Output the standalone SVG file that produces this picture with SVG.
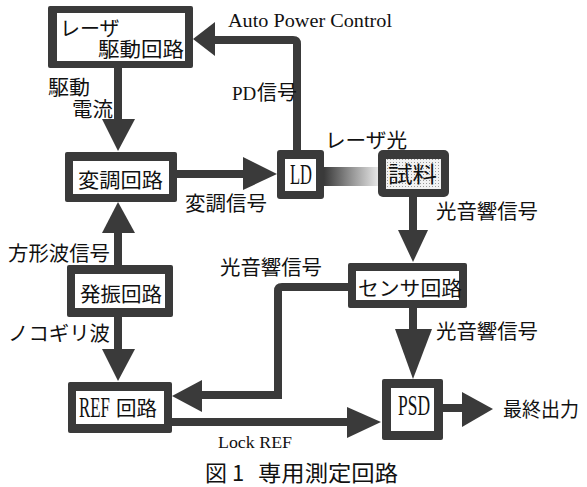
<svg xmlns="http://www.w3.org/2000/svg" width="587" height="487" viewBox="0 0 587 487">
<defs>
<style>
.ob{fill:#3a3a3a}
.ib{fill:#fff}
.ln{fill:none;stroke:#3a3a3a;stroke-width:8}
.hd{fill:#3a3a3a}
.jp{font-family:"Noto Sans CJK JP","Liberation Sans",sans-serif;font-size:20px;fill:#111}
.se{font-family:"Liberation Serif",serif;font-size:18px;fill:#111}
.cd{font-family:"Liberation Serif",serif;font-size:29px;fill:#111}
.cap{font-size:22px}
</style>
<linearGradient id="beam" x1="0" y1="0" x2="1" y2="0">
<stop offset="0" stop-color="#3a3a3a"/>
<stop offset="0.45" stop-color="#8a8a8a"/>
<stop offset="1" stop-color="#e6e6e6"/>
</linearGradient>
<pattern id="dots" width="3" height="3" patternUnits="userSpaceOnUse">
<rect width="3" height="3" fill="#f2f2f2"/>
<rect width="1" height="1" fill="#9a9a9a"/>
</pattern>
</defs>
<rect width="587" height="487" fill="#fff"/>

<g id="connectors">
<line class="ln" x1="118" y1="68" x2="118" y2="121"/>
<polygon class="hd" points="102,119 135,119 118,151"/>
<line class="ln" x1="118" y1="265" x2="118" y2="231"/>
<polygon class="hd" points="102,233 135,233 118,202"/>
<line class="ln" x1="118" y1="317" x2="118" y2="351"/>
<polygon class="hd" points="102,349 135,349 118,381"/>
<line class="ln" x1="177" y1="174" x2="245" y2="174"/>
<polygon class="hd" points="243,157 243,190 277,174"/>
<path class="ln" d="M297,150 V44 Q297,40 293,40 H213"/>
<polygon class="hd" points="215,22 215,56 193,39"/>
<rect x="324" y="167" width="54" height="19" fill="url(#beam)"/>
<line class="ln" x1="413" y1="197" x2="413" y2="232"/>
<polygon class="hd" points="398,230 428,230 413,262"/>
<path class="ln" d="M348,287 H282 Q278,287 278,291 V395 H200"/>
<polygon class="hd" points="202,380 202,412 172,396"/>
<line class="ln" x1="413" y1="308" x2="413" y2="331"/>
<polygon class="hd" points="395,329 432,329 413,379"/>
<line class="ln" x1="172" y1="422" x2="349" y2="422"/>
<polygon class="hd" points="347,407 347,438 381,422"/>
<line class="ln" x1="443" y1="408" x2="464" y2="408"/>
<polygon class="hd" points="462,392 462,427 493,409"/>
</g>

<g id="laser-driver">
<rect class="ob" x="48" y="6" width="145" height="62" rx="2"/>
<rect class="ib" x="57" y="13" width="128" height="48"/>
<text class="jp" x="60" y="36">レーザ</text>
<text class="jp" x="98" y="57" textLength="86" lengthAdjust="spacingAndGlyphs">駆動回路</text>
</g>

<g id="modulator">
<rect class="ob" x="65" y="152" width="112" height="50" rx="2"/>
<rect class="ib" x="73" y="161" width="96" height="33"/>
<text class="jp" x="78" y="188" textLength="85" lengthAdjust="spacingAndGlyphs">変調回路</text>
</g>

<g id="ld">
<rect class="ob" x="277" y="150" width="47" height="49" rx="3"/>
<rect class="ib" x="285" y="159" width="31" height="32"/>
<text class="cd" x="290" y="184" textLength="22" lengthAdjust="spacingAndGlyphs">LD</text>
</g>

<g id="sample">
<rect class="ob" x="378" y="150" width="71" height="47" rx="5"/>
<rect x="386" y="159" width="55" height="30" fill="url(#dots)"/>
<text class="jp cap" x="388" y="182" textLength="49" lengthAdjust="spacingAndGlyphs">試料</text>
</g>

<g id="sensor">
<rect class="ob" x="348" y="263" width="119" height="45" rx="2"/>
<rect class="ib" x="356" y="271" width="103" height="29"/>
<text class="jp" x="358" y="296" textLength="104" lengthAdjust="spacingAndGlyphs">センサ回路</text>
</g>

<g id="oscillator">
<rect class="ob" x="67" y="265" width="106" height="52" rx="2"/>
<rect class="ib" x="75" y="274" width="90" height="34"/>
<text class="jp" x="80" y="302" textLength="82" lengthAdjust="spacingAndGlyphs">発振回路</text>
</g>

<g id="ref">
<rect class="ob" x="68" y="382" width="104" height="51" rx="2"/>
<rect class="ib" x="76" y="391" width="88" height="33"/>
<text class="cd" transform="translate(79,417) scale(0.58,1)">REF</text>
<text class="jp" x="116" y="416" textLength="41" lengthAdjust="spacingAndGlyphs">回路</text>
</g>

<g id="psd">
<rect class="ob" x="382" y="379" width="61" height="61" rx="2"/>
<rect class="ib" x="391" y="388" width="43" height="43"/>
<text class="cd" x="398" y="415" textLength="32" lengthAdjust="spacingAndGlyphs">PSD</text>
</g>

<g id="labels">
<text class="se" x="228" y="27" textLength="164" lengthAdjust="spacingAndGlyphs">Auto Power Control</text>
<text class="se" x="232" y="100" style="font-size:19px">PD</text>
<text class="jp" x="257" y="100" textLength="40" lengthAdjust="spacingAndGlyphs">信号</text>
<text class="jp" x="48" y="95" textLength="42" lengthAdjust="spacingAndGlyphs">駆動</text>
<text class="jp" x="72" y="117" textLength="41" lengthAdjust="spacingAndGlyphs">電流</text>
<text class="jp" x="185" y="211" textLength="82" lengthAdjust="spacingAndGlyphs">変調信号</text>
<text class="jp" x="325" y="148" textLength="82" lengthAdjust="spacingAndGlyphs">レーザ光</text>
<text class="jp" x="436" y="219" textLength="102" lengthAdjust="spacingAndGlyphs">光音響信号</text>
<text class="jp" x="220" y="275" textLength="102" lengthAdjust="spacingAndGlyphs">光音響信号</text>
<text class="jp" x="436" y="339" textLength="102" lengthAdjust="spacingAndGlyphs">光音響信号</text>
<text class="jp" x="8" y="261" textLength="102" lengthAdjust="spacingAndGlyphs">方形波信号</text>
<text class="jp" x="8" y="341" textLength="102" lengthAdjust="spacingAndGlyphs">ノコギリ波</text>
<text class="se" x="218" y="448" style="font-size:17px" textLength="74" lengthAdjust="spacingAndGlyphs">Lock REF</text>
<text class="jp" x="503" y="417" textLength="76" lengthAdjust="spacingAndGlyphs">最終出力</text>
<text class="jp cap" x="205" y="481">図</text>
<text class="jp cap" x="232" y="481">1</text>
<text class="jp cap" x="258" y="481" textLength="140" lengthAdjust="spacingAndGlyphs">専用測定回路</text>
</g>
</svg>
